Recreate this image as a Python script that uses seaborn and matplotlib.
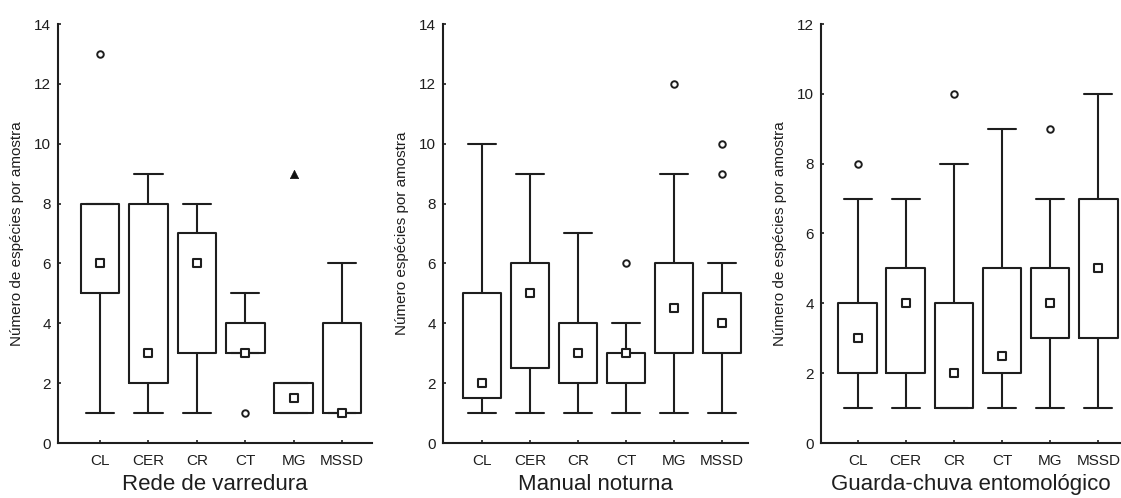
import matplotlib
matplotlib.use("Agg")
import matplotlib.pyplot as plt
import seaborn as sns
import pandas as pd

sns.set_theme(style="ticks")
plt.rcParams["font.family"] = ["Liberation Sans", "DejaVu Sans"]

cats = ["CL", "CER", "CR", "CT", "MG", "MSSD"]

# Rede de varredura
rede_q1 = [5, 2, 3, 3, 1, 1]
rede_q3 = [8, 8, 7, 4, 2, 4]
rede_med = [6, 3, 6, 3, 1.5, 1]
rede_lo = [1, 1, 1, 3, 1, 1]
rede_hi = [8, 9, 8, 5, 2, 6]
rede_out_cat = ["CL", "CT"]
rede_out_val = [13, 1]
rede_ext_cat = ["MG"]
rede_ext_val = [9]

# Manual noturna
man_q1 = [1.5, 2.5, 2, 2, 3, 3]
man_q3 = [5, 6, 4, 3, 6, 5]
man_med = [2, 5, 3, 3, 4.5, 4]
man_lo = [1, 1, 1, 1, 1, 1]
man_hi = [10, 9, 7, 4, 9, 6]
man_out_cat = ["CT", "MG", "MSSD", "MSSD"]
man_out_val = [6, 12, 9, 10]

# Guarda-chuva entomológico
gua_q1 = [2, 2, 1, 2, 3, 3]
gua_q3 = [4, 5, 4, 5, 5, 7]
gua_med = [3, 4, 2, 2.5, 4, 5]
gua_lo = [1, 1, 1, 1, 1, 1]
gua_hi = [7, 7, 8, 9, 7, 10]
gua_out_cat = ["CL", "CR", "MG"]
gua_out_val = [8, 10, 9]

panels = [
    dict(title="Rede de varredura", ylabel="Número de espécies por amostra",
         q1=rede_q1, q3=rede_q3, med=rede_med, lo=rede_lo, hi=rede_hi,
         oc=rede_out_cat, ov=rede_out_val, ec=rede_ext_cat, ev=rede_ext_val,
         ymax=14, rect=[58 / 1121, 55 / 498, 314 / 1121, 419 / 498], xlim=(-0.87, 5.62)),
    dict(title="Manual noturna", ylabel="Número espécies por amostra",
         q1=man_q1, q3=man_q3, med=man_med, lo=man_lo, hi=man_hi,
         oc=man_out_cat, ov=man_out_val, ec=[], ev=[],
         ymax=14, rect=[443 / 1121, 55 / 498, 305 / 1121, 419 / 498], xlim=(-0.81, 5.54)),
    dict(title="Guarda-chuva entomológico", ylabel="Número de espécies por amostra",
         q1=gua_q1, q3=gua_q3, med=gua_med, lo=gua_lo, hi=gua_hi,
         oc=gua_out_cat, ov=gua_out_val, ec=[], ev=[],
         ymax=12, rect=[821 / 1121, 55 / 498, 299 / 1121, 419 / 498], xlim=(-0.76, 5.45)),
]

fig = plt.figure(figsize=(11.21, 4.98), dpi=100)
fig.patch.set_facecolor("white")

lw = 1.5
ink = "#1e1e1e"
for p in panels:
    ax = fig.add_axes(p["rect"])
    ax.set_facecolor("white")
    stats = []
    for i, c in enumerate(cats):
        stats.append(dict(label=c, med=p["med"][i], q1=p["q1"][i], q3=p["q3"][i],
                          whislo=p["lo"][i], whishi=p["hi"][i], fliers=[]))
    pos = list(range(len(cats)))
    ax.bxp(stats, positions=pos, widths=0.8, capwidths=0.58, showfliers=False,
           boxprops=dict(color=ink, linewidth=lw),
           whiskerprops=dict(color=ink, linewidth=lw),
           capprops=dict(color=ink, linewidth=lw),
           medianprops=dict(linewidth=0))
    med_df = pd.DataFrame({"x": pos, "y": p["med"]})
    sns.scatterplot(data=med_df, x="x", y="y", marker="s", s=30, facecolor="white",
                    edgecolor=ink, linewidth=1.5, ax=ax, zorder=5)
    xpos = {c: i for i, c in enumerate(cats)}
    if p["oc"]:
        out_df = pd.DataFrame({"x": [xpos[c] for c in p["oc"]], "y": p["ov"]})
        sns.scatterplot(data=out_df, x="x", y="y", marker="o", s=22, facecolor="white",
                        edgecolor=ink, linewidth=1.4, ax=ax, zorder=5)
    if p["ec"]:
        ext_df = pd.DataFrame({"x": [xpos[c] for c in p["ec"]], "y": p["ev"]})
        sns.scatterplot(data=ext_df, x="x", y="y", marker="^", s=36, color="#111111",
                        edgecolor="#111111", ax=ax, zorder=5)
    ax.set_xlim(*p["xlim"])
    ax.set_ylim(0, p["ymax"])
    ax.set_yticks(range(0, p["ymax"] + 1, 2))
    ax.set_xticks(pos)
    ax.set_xticklabels(cats)
    ax.set_xlabel(p["title"], fontsize=16, color=ink, labelpad=4)
    ax.set_ylabel(p["ylabel"], fontsize=11, color=ink, labelpad=7)
    for s in ["top", "right"]:
        ax.spines[s].set_visible(False)
    for s in ["left", "bottom"]:
        ax.spines[s].set_color(ink)
        ax.spines[s].set_linewidth(lw)
    ax.tick_params(axis="both", labelsize=11, colors=ink, length=2, width=1.2,
                   direction="in")
    ax.tick_params(axis="y", pad=5)
    ax.tick_params(axis="x", pad=8)

fig.savefig("out.png", dpi=100, facecolor="white")
